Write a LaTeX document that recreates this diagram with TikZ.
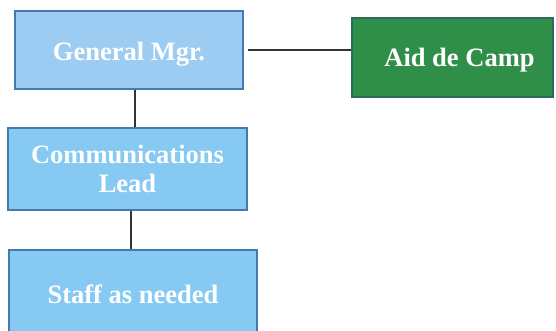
\documentclass[tikz,border=0pt]{standalone}
\usepackage{fontspec}
\setmainfont{Liberation Serif}
\definecolor{gmfill}{HTML}{9CCCF1}
\definecolor{bluefill}{HTML}{86C9F3}
\definecolor{blueedge}{HTML}{4679AE}
\definecolor{aidfill}{HTML}{2F8E47}
\definecolor{aidedge}{HTML}{2D6A5E}
\definecolor{wire}{HTML}{333333}
% move text down inside its box while keeping the box's own size
\newcommand{\lowered}[2]{\raisebox{-#1}[\height][\depth]{#2}}
\begin{document}
\begin{tikzpicture}[x=1pt,y=-1pt,
  box/.style={draw=blueedge, line width=1.5pt, fill=bluefill, text=white,
    font=\fontsize{26.5}{29}\selectfont\bfseries, align=center, inner sep=0pt},
  link/.style={draw=wire, line width=1.5pt}]
\useasboundingbox (0,0) rectangle (556,331);
\fill[white] (0,0) rectangle (556,331);

\node[box, fill=gmfill, minimum width=228pt, minimum height=78pt] (gm) at (129,50) {\lowered{4pt}{General Mgr.}};
\node[box, draw=aidedge, fill=aidfill, minimum width=201pt, minimum height=79pt] (aid) at (452.5,57.5) {\lowered{3pt}{\hspace*{14pt}Aid de Camp}};
\node[box, minimum width=239pt, minimum height=82pt] (comm) at (127.5,169) {Communications\\Lead};
\node[box, minimum width=248pt, minimum height=83pt] (staff) at (133,291.5) {\lowered{3pt}{Staff as needed}};

\draw[link] ([xshift=4pt]gm.east) -- (gm.east -| aid.west);
\draw[link] (gm.south -| 135,0) -- (comm.north -| 135,0);
\draw[link] (comm.south -| 131,0) -- (staff.north -| 131,0);
\end{tikzpicture}
\end{document}
